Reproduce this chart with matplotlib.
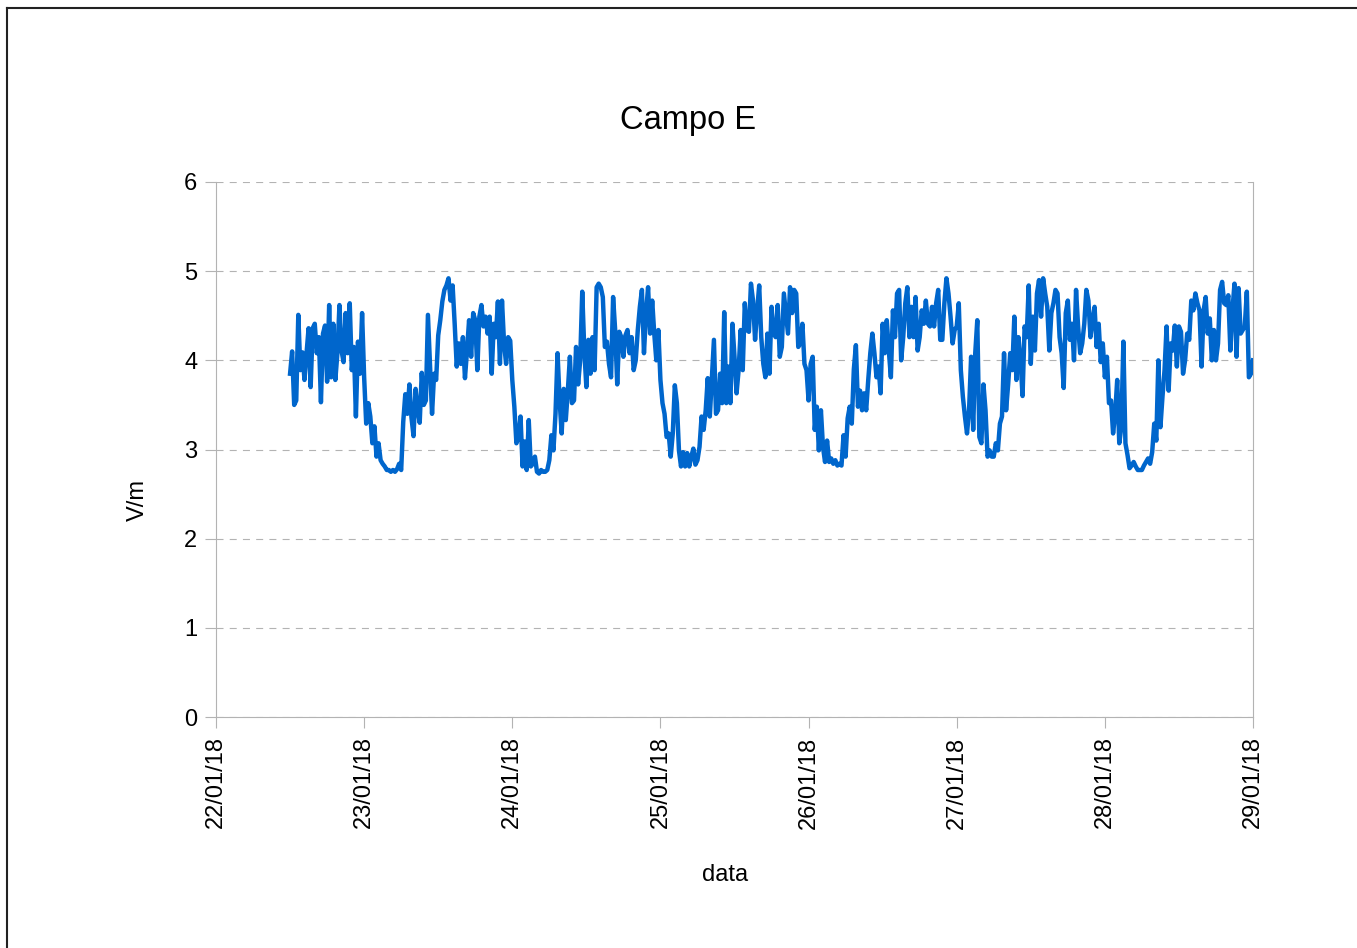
import numpy as np
import pandas as pd
import matplotlib
matplotlib.use("Agg")
import matplotlib.pyplot as plt
import matplotlib.dates as mdates
from matplotlib.lines import Line2D

plt.rcParams['font.family'] = ['Liberation Sans', 'DejaVu Sans']

# ---------------- data ----------------
title = "Campo E"
y_label = "V/m"
x_label = "data"
series_start = "2018-01-22 12:00"
sample_step = "20min"
x_start = "2018-01-22"
x_end = "2018-01-29"
y_ticks = [0, 1, 2, 3, 4, 5, 6]

day_22 = [3.85, 4.10, 3.50, 3.55, 4.51, 3.89, 4.09, 3.78, 4.08, 4.36, 3.70, 4.36,
          4.41, 4.08, 4.26, 3.53, 4.30, 4.39, 3.76, 4.62, 3.81, 4.41, 3.78, 4.08,
          4.62, 4.11, 3.98, 4.53, 4.08, 4.64, 3.89, 4.15, 3.37, 4.21, 3.85, 4.53]

day_23 = [3.81, 3.29, 3.52, 3.37, 3.07, 3.26, 2.92, 3.07, 2.88, 2.84, 2.81, 2.77,
          2.77, 2.75, 2.77, 2.75, 2.78, 2.84, 2.77, 3.31, 3.62, 3.40, 3.73, 3.36,
          3.15, 3.68, 3.45, 3.30, 3.86, 3.50, 3.55, 4.51, 3.96, 3.40, 3.85, 3.78,
          4.28, 4.45, 4.66, 4.79, 4.84, 4.92, 4.67, 4.84, 4.41, 3.93, 4.19, 3.96,
          4.26, 3.80, 4.11, 4.45, 4.04, 4.53, 4.45, 3.89, 4.49, 4.62, 4.38, 4.49,
          4.30, 4.49, 3.85, 4.41, 4.26, 4.66, 3.96, 4.67, 4.19, 3.96, 4.26, 4.22]

day_24 = [3.78, 3.48, 3.07, 3.14, 3.37, 2.81, 3.09, 2.77, 3.33, 2.81, 2.84, 2.92,
          2.75, 2.73, 2.77, 2.75, 2.75, 2.77, 2.88, 3.16, 2.99, 3.40, 4.08, 3.55,
          3.18, 3.68, 3.33, 3.66, 4.04, 3.52, 3.55, 4.15, 3.73, 4.00, 4.77, 4.11,
          3.70, 4.23, 3.85, 4.26, 3.89, 4.82, 4.86, 4.82, 4.71, 4.15, 4.21, 3.96,
          3.81, 4.71, 4.34, 3.73, 4.32, 4.26, 4.04, 4.28, 4.34, 4.08, 4.26, 3.89,
          4.00, 4.34, 4.60, 4.79, 4.08, 4.53, 4.82, 4.30, 4.67, 4.30, 4.00, 4.34]

day_25 = [3.78, 3.52, 3.40, 3.14, 3.18, 2.92, 3.18, 3.72, 3.52, 2.99, 2.81, 2.97,
          2.81, 2.96, 2.81, 2.92, 3.01, 2.83, 2.88, 3.03, 3.37, 3.22, 3.44, 3.80,
          3.37, 3.81, 4.23, 3.40, 3.44, 3.85, 3.52, 4.54, 3.52, 3.93, 3.52, 4.41,
          4.04, 3.63, 3.89, 4.34, 3.89, 4.64, 4.34, 4.32, 4.86, 4.67, 4.23, 4.56,
          4.84, 4.26, 3.96, 3.81, 4.30, 3.85, 4.60, 4.30, 4.26, 4.62, 4.04, 4.15,
          4.75, 4.53, 4.30, 4.82, 4.53, 4.79, 4.75, 4.15, 4.19, 4.41, 3.96, 3.89]

day_26 = [3.55, 3.96, 4.04, 3.22, 3.48, 2.99, 3.44, 3.03, 2.86, 3.10, 2.86, 2.90,
          2.84, 2.88, 2.82, 2.84, 2.82, 3.16, 2.92, 3.35, 3.48, 3.29, 3.90, 4.17,
          3.48, 3.66, 3.44, 3.63, 3.44, 3.78, 4.08, 4.30, 4.08, 3.81, 3.93, 3.63,
          4.41, 4.08, 4.45, 4.11, 3.81, 4.56, 4.26, 4.75, 4.79, 4.00, 4.26, 4.64,
          4.82, 4.26, 4.60, 4.26, 4.71, 4.11, 4.26, 4.56, 4.41, 4.67, 4.41, 4.38,
          4.60, 4.38, 4.64, 4.79, 4.23, 4.23, 4.64, 4.92, 4.75, 4.49, 4.19, 4.34]

day_27 = [4.38, 4.64, 3.89, 3.59, 3.37, 3.18, 3.44, 4.04, 3.22, 4.08, 4.45, 3.14,
          3.07, 3.73, 3.44, 2.92, 2.99, 2.92, 2.92, 3.07, 2.99, 3.29, 3.37, 4.08,
          3.44, 3.73, 4.08, 3.89, 4.49, 3.78, 4.26, 4.00, 3.60, 4.38, 4.26, 4.84,
          3.96, 4.49, 4.11, 4.75, 4.90, 4.49, 4.92, 4.75, 4.60, 4.11, 4.53, 4.64,
          4.79, 4.75, 4.26, 4.08, 3.69, 4.53, 4.67, 4.23, 4.41, 4.00, 4.79, 4.38,
          4.08, 4.19, 4.41, 4.79, 4.67, 4.26, 4.45, 4.60, 4.15, 4.41, 3.98, 4.19]

day_28 = [3.81, 4.04, 3.52, 3.55, 3.18, 3.40, 3.78, 3.07, 3.25, 4.21, 3.07, 2.94,
          2.79, 2.82, 2.86, 2.81, 2.77, 2.77, 2.77, 2.82, 2.86, 2.90, 2.84, 2.97,
          3.29, 3.10, 4.00, 3.25, 3.59, 3.89, 4.38, 3.66, 4.19, 4.11, 4.39, 3.93,
          4.38, 4.32, 3.85, 4.00, 4.30, 4.23, 4.67, 4.56, 4.75, 4.64, 4.56, 3.93,
          4.56, 4.71, 4.30, 4.47, 4.00, 4.34, 4.00, 4.19, 4.79, 4.88, 4.64, 4.62,
          4.73, 4.11, 4.56, 4.86, 4.04, 4.81, 4.30, 4.34, 4.38, 4.77, 3.81, 3.85]

day_29 = [4.00]

values = np.array(day_22 + day_23 + day_24 + day_25 + day_26 + day_27 + day_28 + day_29)
times = pd.date_range(series_start, periods=len(values), freq=sample_step)

# ---------------- figure ----------------
W, H = 1357, 948
fig = plt.figure(figsize=(W / 100, H / 100), dpi=100)
fig.patch.set_facecolor("white")

ax = fig.add_axes([216 / W, 1 - 717 / H, (1253 - 216) / W, (717 - 182) / H])

grid_col = "#b3b3b3"
ax.plot(times, values, color="#0066cc", lw=3.2, solid_joinstyle="round", zorder=3)

ax.set_xlim(pd.Timestamp(x_start), pd.Timestamp(x_end))
ax.set_ylim(y_ticks[0], y_ticks[-1])
ax.set_yticks(y_ticks)
ax.xaxis.set_major_locator(mdates.DayLocator())
ax.xaxis.set_major_formatter(mdates.DateFormatter("%d/%m/%y"))

ax.set_axisbelow(True)
ax.yaxis.grid(True, color=grid_col, linestyle=(0, (6.3, 5.6)), linewidth=0.8)
ax.xaxis.grid(False)

for side in ["left", "bottom", "right"]:
    ax.spines[side].set_color(grid_col)
    ax.spines[side].set_linewidth(0.8)
ax.spines["top"].set_visible(False)

ax.tick_params(axis="y", length=8, width=0.8, color=grid_col, pad=5.5,
               labelsize=17, labelcolor="black")
ax.tick_params(axis="x", length=8, width=0.8, color=grid_col, pad=6,
               labelsize=17, labelcolor="black", labelrotation=90)

fig.text(688 / W, 1 - 121 / H, title, ha="center", va="center", fontsize=23.5)
fig.text(138 / W, 1 - 500 / H, y_label, ha="center", va="center", rotation=90, fontsize=17)
fig.text(725 / W, 1 - 875 / H, x_label, ha="center", va="center", fontsize=17)

# frame lines at top and left of the picture
fig.add_artist(Line2D([7 / W, 1], [1 - 8 / H, 1 - 8 / H], transform=fig.transFigure,
                      color="#222222", lw=1.5))
fig.add_artist(Line2D([7 / W, 7 / W], [0, 1 - 8 / H], transform=fig.transFigure,
                      color="#222222", lw=1.5))

fig.savefig("out.png", dpi=100, facecolor="white")
